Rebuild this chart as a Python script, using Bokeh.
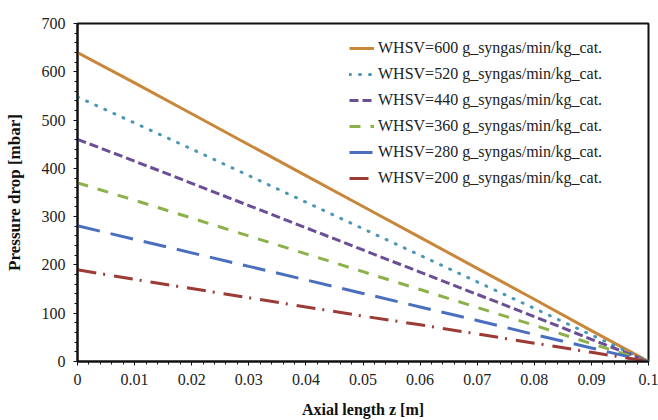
from bokeh.plotting import figure
from bokeh.models import FixedTicker, Legend, LegendItem, Range1d
from bokeh.embed import file_html
from bokeh.resources import INLINE

# Axial positions along the bed [m]
z = [0.0, 0.01, 0.02, 0.03, 0.04, 0.05, 0.06, 0.07, 0.08, 0.09, 0.1]

# Pressure drop profiles [mbar] for each space velocity
dp_600 = [640, 577, 513, 449, 385, 321, 257, 193, 129, 64, 0]
dp_520 = [548, 494, 440, 385, 330, 275, 220, 165, 110, 55, 0]
dp_440 = [460, 415, 369, 323, 277, 231, 185, 139, 93, 46, 0]
dp_360 = [370, 334, 297, 260, 223, 186, 149, 112, 75, 37, 0]
dp_280 = [281, 253, 225, 197, 169, 141, 113, 85, 56, 28, 0]
dp_200 = [190, 170, 151, 132, 113, 94, 76, 57, 38, 19, 0]

labels = [
    "WHSV=600 g_syngas/min/kg_cat.",
    "WHSV=520 g_syngas/min/kg_cat.",
    "WHSV=440 g_syngas/min/kg_cat.",
    "WHSV=360 g_syngas/min/kg_cat.",
    "WHSV=280 g_syngas/min/kg_cat.",
    "WHSV=200 g_syngas/min/kg_cat.",
]

x_ticks = [0.0, 0.01, 0.02, 0.03, 0.04, 0.05, 0.06, 0.07, 0.08, 0.09, 0.1]
x_tick_labels = ["0", "0.01", "0.02", "0.03", "0.04", "0.05", "0.06", "0.07", "0.08", "0.09", "0.1"]
y_ticks = [0, 100, 200, 300, 400, 500, 600, 700]

SERIF = "Liberation Serif"

p = figure(width=658, height=420, output_backend="svg", toolbar_location=None,
           x_range=Range1d(0, 0.1), y_range=Range1d(0, 700),
           min_border_left=77, min_border_right=10, min_border_top=23, min_border_bottom=58)
p.grid.visible = False
p.outline_line_color = "#111111"
p.outline_line_width = 2
p.background_fill_color = "white"
p.border_fill_color = "white"

styles = [
    (dp_600, "#C8873A", None),
    (dp_520, "#4B97B5", "1 9"),
    (dp_440, "#6B4F96", "9 4"),
    (dp_360, "#8CB04A", "11 10"),
    (dp_280, "#4A6FBF", "23 11"),
    (dp_200, "#9C3B36", "19 7 2 9"),
]

items = []
for (vals, color, dash), lab in zip(styles, labels):
    kw = dict(line_color=color, line_width=3)
    if dash is not None:
        kw["line_dash"] = dash
        kw["line_cap"] = "round" if dash == "1 9" else "butt"
    r = p.line(z, vals, **kw)
    items.append(LegendItem(label=lab, renderers=[r]))

legend = Legend(items=items, location=(272, 173), padding=0, margin=0,
                spacing=6, glyph_width=25, glyph_height=20, label_height=20,
                label_standoff=4, border_line_color=None, background_fill_alpha=0,
                label_text_font=SERIF, label_text_font_size="16px", label_text_color="#222222")
p.add_layout(legend)

minor_x = [i * 0.002 for i in range(51)]
minor_y = [i * 20 for i in range(36)]
p.xaxis.ticker = FixedTicker(ticks=x_ticks, minor_ticks=minor_x)
p.yaxis.ticker = FixedTicker(ticks=y_ticks, minor_ticks=minor_y)
p.xaxis.major_label_overrides = {t: s for t, s in zip(x_ticks, x_tick_labels)}

for ax in (p.xaxis, p.yaxis):
    ax.axis_line_color = "#111111"
    ax.axis_line_width = 2
    ax.major_tick_line_color = "#111111"
    ax.minor_tick_line_color = "#111111"
    ax.major_tick_in = 0
    ax.major_tick_out = 4
    ax.minor_tick_in = 0
    ax.minor_tick_out = 3
    ax.major_label_text_font = SERIF
    ax.major_label_text_font_size = "16px"
    ax.major_label_text_color = "#222222"
    ax.axis_label_text_font = SERIF
    ax.axis_label_text_font_style = "bold"
    ax.axis_label_text_color = "#111111"

p.xaxis.axis_label = "Axial length z [m]"
p.yaxis.axis_label = "Pressure drop [mbar]"
p.xaxis.axis_label_text_font_size = "16px"
p.yaxis.axis_label_text_font_size = "17px"
p.xaxis.major_label_standoff = 8
p.xaxis.axis_label_standoff = 13
p.yaxis.major_label_standoff = 8
p.yaxis.axis_label_standoff = 15

open("out.html", "w").write(file_html(p, INLINE))
